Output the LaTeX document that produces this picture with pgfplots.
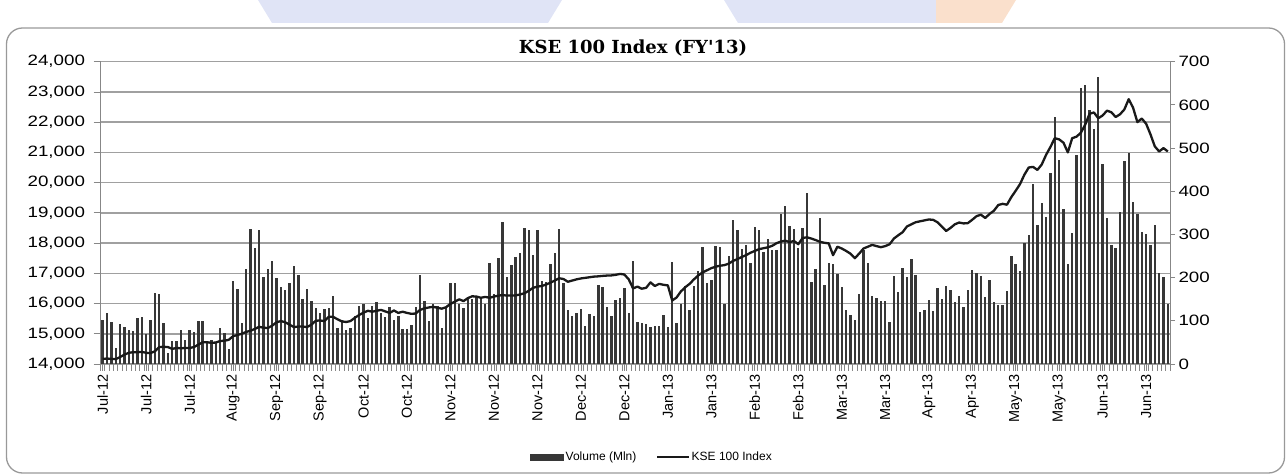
\documentclass[border=0pt]{standalone}
\usepackage{pgfplots}
\pgfplotsset{compat=1.18}
\usepackage{pgfplotstable}
\usepackage{fontspec}
\setmainfont{Liberation Sans}
\newfontfamily\titlefont{DejaVu Serif}
\definecolor{gridc}{RGB}{160,160,160}
\definecolor{axc}{RGB}{135,135,135}
\definecolor{barc}{RGB}{55,55,55}
\definecolor{linec}{RGB}{25,25,25}
\definecolor{wmblue}{RGB}{224,228,246}
\definecolor{wmorange}{RGB}{250,224,204}

\pgfplotstableread{
i vol idx
0 103 14170
1 117 14180
2 98 14170
3 36 14160
4 92 14230
5 86 14310
6 79 14370
7 76 14390
8 106 14390
9 108 14400
10 69 14370
11 103 14360
12 165 14420
13 162 14560
14 94 14570
15 25 14560
16 54 14500
17 53 14530
18 79 14520
19 56 14530
20 79 14530
21 75 14560
22 100 14640
23 100 14720
24 48 14720
25 56 14700
26 48 14710
27 83 14760
28 72 14770
29 34 14800
30 193 14920
31 173 14960
32 94 15000
33 220 15060
34 312 15100
35 268 15160
36 310 15230
37 201 15200
38 221 15190
39 239 15270
40 198 15380
41 179 15420
42 171 15380
43 187 15300
44 227 15220
45 205 15240
46 150 15240
47 174 15220
48 147 15300
49 129 15430
50 117 15440
51 127 15420
52 129 15560
53 157 15560
54 83 15480
55 103 15410
56 79 15390
57 84 15420
58 111 15530
59 134 15620
60 140 15700
61 106 15760
62 134 15730
63 144 15760
64 117 15790
65 108 15740
66 131 15690
67 103 15770
68 111 15690
69 80 15730
70 80 15690
71 90 15660
72 133 15670
73 206 15790
74 147 15840
75 100 15870
76 140 15890
77 134 15860
78 83 15830
79 133 15880
80 187 15990
81 188 16060
82 140 16140
83 129 16080
84 156 16180
85 150 16240
86 156 16230
87 154 16190
88 140 16220
89 233 16190
90 162 16230
91 245 16260
92 329 16280
93 202 16263
94 229 16263
95 248 16270
96 258 16300
97 314 16340
98 310 16420
99 252 16520
100 310 16560
101 193 16580
102 191 16630
103 231 16690
104 256 16760
105 312 16837
106 187 16810
107 125 16720
108 111 16760
109 117 16800
110 127 16830
111 89 16850
112 116 16870
113 111 16890
114 184 16900
115 179 16914
116 131 16925
117 111 16930
118 148 16950
119 152 16980
120 175 16960
121 119 16800
122 238 16500
123 98 16560
124 96 16490
125 93 16520
126 85 16700
127 88 16580
128 87 16650
129 113 16620
130 85 16600
131 236 16100
132 94 16200
133 140 16400
134 180 16540
135 125 16650
136 180 16800
137 216 16930
138 270 17030
139 187 17100
140 194 17170
141 274 17220
142 270 17250
143 140 17270
144 250 17320
145 333 17410
146 310 17470
147 267 17540
148 275 17600
149 235 17680
150 318 17740
151 310 17800
152 260 17830
153 289 17860
154 264 17910
155 265 17996
156 347 18050
157 366 18080
158 319 18030
159 312 18070
160 268 17963
161 316 18170
162 397 18190
163 190 18150
164 221 18100
165 337 18040
166 183 18010
167 233 17990
168 231 17600
169 208 17880
170 179 17820
171 125 17740
172 113 17650
173 102 17500
174 161 17650
175 264 17820
176 233 17880
177 158 17940
178 152 17900
179 147 17864
180 147 17900
181 98 17960
182 204 18150
183 167 18260
184 223 18360
185 201 18550
186 244 18620
187 205 18690
188 121 18720
189 125 18750
190 148 18780
191 123 18770
192 177 18690
193 150 18550
194 181 18400
195 171 18500
196 144 18620
197 158 18680
198 133 18650
199 171 18660
200 218 18770
201 210 18890
202 204 18940
203 156 18830
204 194 18965
205 144 19070
206 137 19260
207 136 19298
208 170 19270
209 251 19520
210 231 19730
211 216 19950
212 281 20260
213 299 20500
214 417 20520
215 322 20420
216 372 20600
217 341 20920
218 443 21180
219 571 21470
220 472 21430
221 360 21320
222 231 21000
223 304 21470
224 484 21520
225 638 21650
226 646 21920
227 588 22278
228 543 22320
229 665 22130
230 463 22220
231 339 22380
232 275 22330
233 268 22170
234 353 22260
235 470 22420
236 488 22760
237 376 22480
238 347 22000
239 306 22120
240 301 21950
241 275 21600
242 322 21200
243 210 21030
244 201 21141
245 140 21030
}\kse

\pgfplotsset{
  base/.style={scale only axis, width=1069.5pt, height=302.3pt,
    at={(100.5pt,112pt)}, anchor=south west, xmin=-0.5, xmax=245.5},
}

\begin{document}
\begin{tikzpicture}[x=1pt,y=1pt]
\useasboundingbox (0,0) rectangle (1287,476);
\fill[wmblue] (258,476) -- (562,476) -- (548,453) -- (272,453) -- cycle;
\fill[wmblue] (724,476) -- (936,476) -- (936,453) -- (738,453) -- cycle;
\fill[wmorange] (936,476) -- (1016,476) -- (1002,453) -- (936,453) -- cycle;
\draw[axc!85, line width=1.3pt, rounded corners=16pt] (6.5,3) rectangle (1284.5,448);
\node[font=\titlefont\bfseries\fontsize{18}{18}\selectfont] at (633,428) {KSE 100 Index (FY\textquotesingle13)};

% background axis: grid, left scale, category axis
\begin{axis}[base, ymin=14000, ymax=24000, ytick={14000,15000,...,24000},
  scaled y ticks=false,
  ymajorgrids, grid style={gridc, line width=1.6pt},
  axis x line*=bottom, axis y line*=left,
  axis line style={axc, line width=1pt, -},
  tick style={axc, line width=0.8pt}, tick align=outside,
  major tick length=7pt, minor tick length=7pt,
  xtick={0,10,...,240},
  xticklabels={Jul-12,Jul-12,Jul-12,Aug-12,Sep-12,Sep-12,Oct-12,Oct-12,Nov-12,Nov-12,Nov-12,Dec-12,Dec-12,Jan-13,Jan-13,Feb-13,Feb-13,Mar-13,Mar-13,Apr-13,Apr-13,May-13,May-13,Jun-13,Jun-13},
  minor xtick={-0.5,0.5,...,245.5},
  xticklabel style={rotate=90, anchor=east, font=\fontsize{14.5}{14.5}\selectfont},
  yticklabel style={font=\fontsize{15}{15}\selectfont, xshift=-5pt},
  yticklabel={\scalebox{1.25}[1]{\pgfmathprintnumber{\tick}}},
  /pgf/number format/.cd, 1000 sep={,}, assume math mode=true]
\addplot[draw=none] coordinates {(0,14000)};
\end{axis}

% volume bars on the right scale
\begin{axis}[base, ymin=0, ymax=700, ytick={0,100,...,700},
  axis y line*=right, axis x line=none,
  axis line style={axc, line width=1pt, -},
  tick style={axc, line width=0.8pt}, tick align=outside, major tick length=5pt,
  yticklabel style={font=\fontsize{15}{15}\selectfont},
  yticklabel={\scalebox{1.25}[1]{\pgfmathprintnumber{\tick}}},
  /pgf/number format/assume math mode=true]
\addplot[ycomb, barc, line width=2.4pt] table[x=i, y=vol] {\kse};
\end{axis}

% index line on the left scale
\begin{axis}[base, ymin=14000, ymax=24000, hide axis,
  legend style={at={(0.5157,-0.3076)}, anchor=center, draw=none, fill=none,
    font=\fontsize{12}{12}\selectfont, legend columns=2,
    /tikz/every even column/.append style={column sep=18pt}}]
\addlegendimage{legend image code/.code={\fill[barc] (0pt,-3pt) rectangle (33pt,3pt);}}
\addlegendentry{Volume (Mln)}
\addplot[linec, line width=2.3pt, line join=round,
  legend image code/.code={\draw[linec, line width=1.3pt] (0pt,0pt) -- (32pt,0pt);}]
  table[x=i, y=idx] {\kse};
\addlegendentry{KSE 100 Index}
\end{axis}
\end{tikzpicture}
\end{document}
